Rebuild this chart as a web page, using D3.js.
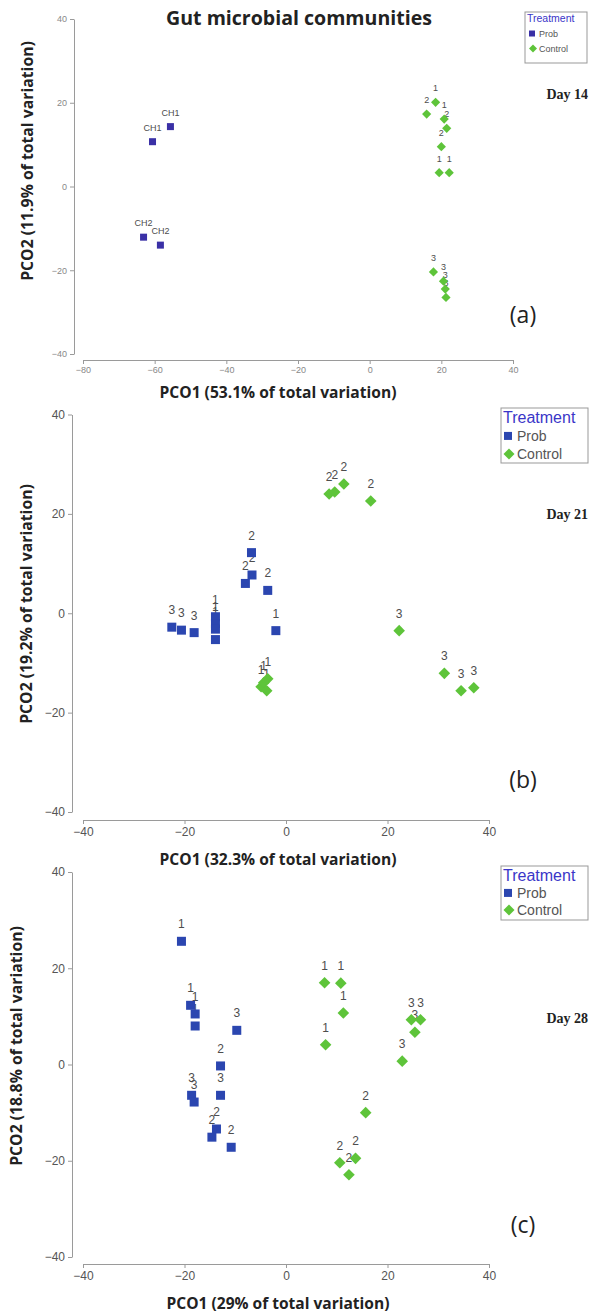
<!DOCTYPE html>
<html>
<head>
<meta charset="utf-8">
<script src="https://cdn.jsdelivr.net/npm/d3@7"></script>
<style>
body { margin: 0; background: #fff; }
</style>
</head>
<body>
<svg id="chart" width="599" height="1313"></svg>
<script>

// values: [PCO1, PCO2, label]
var day14Prob = [[-55.6, 14.3, "CH1"], [-60.6, 10.7, "CH1"], [-63.1, -12.1, "CH2"], [-58.4, -14.0, "CH2"]]
var day14Ctrl = [[18.4, 20.1, "1"], [15.9, 17.3, "2"], [20.8, 16.1, "1"], [21.5, 13.9, "2"], [20.0, 9.5, "2"],
                 [19.4, 3.3, "1"], [22.2, 3.3, "1"], [17.8, -20.4, "3"], [20.6, -22.6, "3"], [21.1, -24.5, "3"], [21.3, -26.5, "3"]]

var day21Prob = [[-22.5, -2.8, "3"], [-20.6, -3.4, "3"], [-18.1, -3.9, "3"], [-13.9, -0.7, "1"], [-13.9, -2.1, "1"],
                 [-13.9, -3.2, "1"], [-13.9, -5.3, "1"], [-6.8, 12.2, "2"], [-6.7, 7.7, "2"], [-8.0, 6.0, "2"],
                 [-3.6, 4.6, "2"], [-2.0, -3.5, "1"]]
var day21Ctrl = [[-4.9, -14.8, "1"], [-4.4, -14.0, "1"], [-3.6, -13.2, "1"], [-3.8, -15.6, "1"], [8.5, 24.0, "2"],
                 [9.6, 24.4, "2"], [11.4, 26.0, "2"], [16.7, 22.6, "2"], [22.3, -3.5, "3"], [31.2, -12.1, "3"],
                 [34.5, -15.6, "3"], [37.0, -15.0, "3"]]

var day28Prob = [[-20.6, 25.6, "1"], [-18.8, 12.3, "1"], [-17.9, 10.5, "1"], [-17.9, 8.0, "1"], [-9.7, 7.1, "3"],
                 [-12.9, -0.3, "2"], [-12.9, -6.4, "3"], [-18.6, -6.4, "3"], [-18.1, -7.8, "3"], [-13.7, -13.4, "2"],
                 [-14.6, -15.1, "2"], [-10.8, -17.2, "2"]]
var day28Ctrl = [[7.6, 17.0, "1"], [10.8, 16.9, "1"], [11.3, 10.7, "1"], [7.8, 4.1, "1"], [24.7, 9.3, "3"],
                 [26.5, 9.3, "3"], [25.4, 6.7, "3"], [22.9, 0.7, "3"], [15.7, -10.0, "2"], [10.6, -20.4, "2"],
                 [13.7, -19.5, "2"], [12.4, -22.9, "2"]]

var xTicksA = [-80, -60, -40, -20, 0, 20, 40]
var xTicksBC = [-40, -20, 0, 20, 40]
var yTicks = [-40, -20, 0, 20, 40]

var xTitles = ["PCO1 (53.1% of total variation)", "PCO1 (32.3% of total variation)", "PCO1 (29% of total variation)"]
var yTitles = ["PCO2 (11.9% of total variation)", "PCO2 (19.2% of total variation)", "PCO2 (18.8% of total variation)"]
var dayLabels = ["Day 14", "Day 21", "Day 28"]
var panelTags = ["(a)", "(b)", "(c)"]
var legendItems = ["Prob", "Control"]

var svg = d3.select("#chart")

var sans = "'Liberation Sans', Arial, sans-serif"
var bold = "'Open Sans', 'DejaVu Sans', sans-serif"

// layout of each panel (pixels)
var panels = [
    { prob: day14Prob, ctrl: day14Ctrl, xDomain: [-80, 40], xTicks: xTicksA,
      left: 83, right: 513, top: 19, bottom: 354, axisX: 74, axisY: 360,
      probColor: "#3a30a6", tick: 9, lab: 9, sq: 7, dia: 4.6, labDy: -11,
      xTitleY: 398, yTitleX: 33, yTitleC: 161,
      legend: { x: 525, y: 12, w: 62, h: 51, head: 10.5, item: 9, row: 15, sq: 6, dia: 4 },
      dayX: 588, dayY: 99, tagY: 323 },
    { prob: day21Prob, ctrl: day21Ctrl, xDomain: [-40, 40], xTicks: xTicksBC,
      left: 83, right: 489, top: 414.5, bottom: 812, axisX: 72, axisY: 820,
      probColor: "#2b46b0", tick: 12, lab: 12, sq: 9, dia: 5.8, labDy: -13,
      xTitleY: 865, yTitleX: 32, yTitleC: 604,
      legend: { x: 501, y: 408, w: 87, h: 55, head: 16, item: 14, row: 18, sq: 8, dia: 5.5 },
      dayX: 588, dayY: 519, tagY: 788 },
    { prob: day28Prob, ctrl: day28Ctrl, xDomain: [-40, 40], xTicks: xTicksBC,
      left: 83, right: 489, top: 872, bottom: 1257, axisX: 72, axisY: 1264,
      probColor: "#2b46b0", tick: 12, lab: 12, sq: 9, dia: 5.8, labDy: -13,
      xTitleY: 1309, yTitleX: 22, yTitleC: 1046,
      legend: { x: 501, y: 866, w: 87, h: 54, head: 16, item: 14, row: 17, sq: 8, dia: 5.5 },
      dayX: 588, dayY: 1023, tagY: 1233 }
]

var green = "#5ec43a"

// scale a text so its width matches the target
function fitText(sel, target) {
    var len = sel.node().getComputedTextLength()
    var fs = parseFloat(sel.style("font-size"))
    sel.style("font-size", (fs * target / len) + "px")
}

svg.append("text")
   .attr("x", 299)
   .attr("y", 25)
   .attr("text-anchor", "middle")
   .style("font-family", bold)
   .style("font-weight", "bold")
   .style("font-size", "17px")
   .style("fill", "#222")
   .text("Gut microbial communities")
   .call(fitText, 266)

panels.forEach(function(p, i) {

    var g = svg.append("g")

    var xScale = d3.scaleLinear().domain(p.xDomain).range([p.left, p.right])
    var yScale = d3.scaleLinear().domain([-40, 40]).range([p.bottom, p.top])

    var xAxis = g.append("g")
                 .attr("transform", `translate(0,${p.axisY})`)
                 .call(d3.axisBottom(xScale).tickValues(p.xTicks).tickSize(4).tickSizeOuter(0).tickPadding(3))
    var yAxis = g.append("g")
                 .attr("transform", `translate(${p.axisX},0)`)
                 .call(d3.axisLeft(yScale).tickValues(yTicks).tickSize(4).tickSizeOuter(0).tickPadding(3))

    ;[xAxis, yAxis].forEach(function(ax) {
        ax.select(".domain").attr("stroke", "#9a9a9a")
        ax.selectAll(".tick line").attr("stroke", "#9a9a9a")
        ax.selectAll("text")
          .style("font-family", sans)
          .style("font-size", p.tick + "px")
          .attr("fill", i == 0 ? "#888" : "#555")
    })

    // point labels sit above their points, partly hidden by neighbours
    g.append("g")
     .selectAll("text")
     .data(p.prob.concat(p.ctrl))
     .enter()
     .append("text")
     .attr("x", d => xScale(d[0]))
     .attr("y", d => yScale(d[1]) + p.labDy)
     .attr("text-anchor", "middle")
     .style("font-family", sans)
     .style("font-size", p.lab + "px")
     .attr("fill", "#4d4d4d")
     .text(d => d[2])

    // control diamonds
    g.append("g")
     .selectAll("path")
     .data(p.ctrl)
     .enter()
     .append("path")
     .attr("d", d3.symbol(d3.symbolSquare, 2 * p.dia * p.dia))
     .attr("transform", d => `translate(${xScale(d[0])},${yScale(d[1])}) rotate(45)`)
     .attr("fill", green)

    // probiotic squares
    g.append("g")
     .selectAll("rect")
     .data(p.prob)
     .enter()
     .append("rect")
     .attr("x", d => xScale(d[0]) - p.sq / 2)
     .attr("y", d => yScale(d[1]) - p.sq / 2)
     .attr("width", p.sq)
     .attr("height", p.sq)
     .attr("fill", p.probColor)

    // axis titles
    g.append("text")
     .attr("x", 278)
     .attr("y", p.xTitleY)
     .attr("text-anchor", "middle")
     .style("font-family", bold)
     .style("font-weight", "bold")
     .style("font-size", "14px")
     .style("fill", "#222")
     .text(xTitles[i])
     .call(fitText, i == 2 ? 223 : 237)

    g.append("text")
     .attr("transform", `translate(${p.yTitleX},${p.yTitleC}) rotate(-90)`)
     .attr("text-anchor", "middle")
     .style("font-family", bold)
     .style("font-weight", "bold")
     .style("font-size", "14px")
     .style("fill", "#222")
     .text(yTitles[i])
     .call(fitText, 240)

    // legend
    var L = p.legend
    var leg = g.append("g").attr("transform", `translate(${L.x},${L.y})`)
    leg.append("rect")
       .attr("width", L.w)
       .attr("height", L.h)
       .attr("fill", "white")
       .attr("stroke", "#999")
    leg.append("text")
       .attr("x", 2)
       .attr("y", L.head * 0.95)
       .style("font-family", sans)
       .style("font-size", L.head + "px")
       .attr("fill", "#3a36c8")
       .text("Treatment")
    legendItems.forEach(function(name, k) {
        var cy = L.head * 0.62 + L.row * (k + 1)
        if (k == 0) {
            leg.append("rect")
               .attr("x", 7 - L.sq / 2).attr("y", cy - L.sq / 2)
               .attr("width", L.sq).attr("height", L.sq)
               .attr("fill", p.probColor)
        } else {
            leg.append("path")
               .attr("d", d3.symbol(d3.symbolSquare, 2 * L.dia * L.dia))
               .attr("transform", `translate(8,${cy}) rotate(45)`)
               .attr("fill", green)
        }
        leg.append("text")
           .attr("x", 8 + L.sq)
           .attr("y", cy + L.item * 0.36)
           .style("font-family", sans)
           .style("font-size", L.item + "px")
           .attr("fill", "#555")
           .text(name)
    })

    g.append("text")
     .attr("x", p.dayX)
     .attr("y", p.dayY)
     .attr("text-anchor", "end")
     .style("font-family", "'Liberation Serif', 'Times New Roman', serif")
     .style("font-weight", "bold")
     .style("font-size", "14px")
     .attr("fill", "#222")
     .text(dayLabels[i])

    g.append("text")
     .attr("x", 523)
     .attr("y", p.tagY)
     .attr("text-anchor", "middle")
     .style("font-family", bold)
     .style("font-size", "23px")
     .attr("fill", "#222")
     .text(panelTags[i])
})
</script>
</body>
</html>
